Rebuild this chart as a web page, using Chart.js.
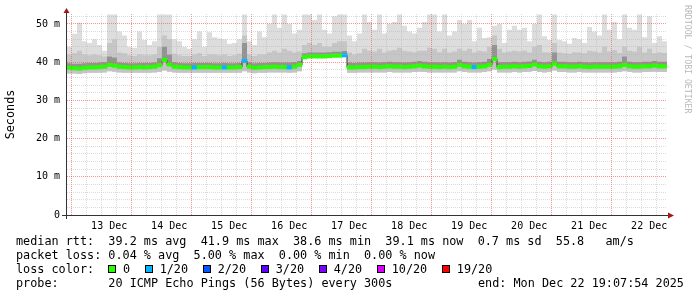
<!DOCTYPE html>
<html><head><meta charset="utf-8">
<script src="https://cdn.jsdelivr.net/npm/chart.js@4.4.1/dist/chart.umd.min.js"></script>
<style>
html,body{margin:0;padding:0;background:#fff;}
#wrap{position:relative;width:697px;height:297px;overflow:hidden;background:#fff;}
#c{position:absolute;left:0;top:0;}
.ln{position:absolute;left:16px;font-family:'DejaVu Sans Mono',monospace;font-size:11.8px;line-height:14px;white-space:pre;color:#000;}
.sw{display:inline-block;width:6px;height:6px;border:1px solid #000;margin-right:6.6px;vertical-align:baseline;}
.lab{margin-right:15px;}
.wm{position:absolute;left:683px;top:5px;writing-mode:vertical-rl;font-family:'DejaVu Sans Mono',monospace;font-size:8.2px;line-height:10px;color:#b8b8b8;white-space:pre;}
</style></head>
<body>
<div id="wrap">
<canvas id="c" width="697" height="297"></canvas>
<div class="ln" style="top:234px">median rtt:  39.2 ms avg  41.9 ms max  38.6 ms min  39.1 ms now  0.7 ms sd  55.8   am/s</div>
<div class="ln" style="top:248px">packet loss: 0.04 % avg  5.00 % max  0.00 % min  0.00 % now</div>
<div class="ln" style="top:262px" id="lossLine"></div>
<div class="ln" style="top:276px">probe:       20 ICMP Echo Pings (56 Bytes) every 300s</div>
<div class="ln" style="top:276px;left:478px">end: Mon Dec 22 19:07:54 2025</div>
<div class="wm">RRDTOOL / TOBI OETIKER</div>
</div>
<script>
// ---- time axis: hours since 12 Dec 00:00, 2-hour bins ----
const startHour = 19 + 7/60 + 54/3600;   // 12 Dec 19:07:54
const binHours = 2;
const dayLabels = ['13 Dec','14 Dec','15 Dec','16 Dec','17 Dec','18 Dec','19 Dec','20 Dec','21 Dec','22 Dec'];
const yMajorTicks = [0,10,20,30,40,50];
const yMajorLabels = ['0','10 m','20 m','30 m','40 m','50 m'];
const yMinorStep = 2;
const yMax = 52.6;

// ---- smoke: highest ping per bin (ms) ----
const maxRtt = [
44.0,47.4,50.3,45.5,45.0,46.0,44.5,43.0,52.5,52.5,
48.0,47.0,44.0,43.8,48.0,45.8,44.5,45.5,52.5,52.5,
52.5,46.0,45.5,44.0,43.5,46.0,48.0,44.0,47.8,46.5,
46.2,46.0,44.8,45.0,46.0,52.5,45.5,44.5,48.0,46.5,
50.0,52.5,49.0,52.5,50.0,47.5,48.5,52.5,52.5,51.0,
52.5,48.5,47.5,52.0,52.5,52.5,47.0,45.5,47.5,52.5,
50.5,48.5,52.5,47.5,50.0,50.5,52.5,49.5,48.0,47.5,
49.0,50.5,52.5,52.5,48.0,52.5,47.0,48.0,51.0,50.0,
51.0,45.5,49.0,46.3,46.5,49.5,50.0,45.0,48.5,49.5,
48.5,49.0,45.5,50.0,52.5,46.8,45.8,52.5,45.8,45.5,
44.8,46.3,46.0,45.0,49.2,48.0,47.0,52.5,48.5,50.5,
46.0,52.5,49.0,48.5,52.5,46.5,52.0,45.0,46.8,45.5];

// ---- smoke: upper quantile band top (ms) ----
const upperRtt = [
42.0,42.3,43.0,42.0,41.8,42.0,41.8,41.5,45.0,46.0,
42.5,42.3,41.8,41.6,42.0,41.8,41.8,42.0,44.0,47.0,
46.0,42.2,41.8,41.6,41.6,42.0,42.3,41.6,42.0,42.0,
41.8,42.0,41.6,41.8,42.2,47.0,42.0,41.6,42.0,42.0,
42.5,43.0,42.5,43.5,43.0,42.5,42.8,44.5,45.0,44.5,
45.0,44.0,44.0,45.0,45.5,45.5,42.5,42.0,42.3,43.5,
43.0,42.8,43.5,42.5,43.0,43.2,43.8,43.0,42.8,42.6,
43.0,43.0,43.8,43.5,42.6,43.5,42.5,42.8,43.5,43.0,
43.5,42.5,43.0,42.8,44.0,47.0,43.5,42.5,42.8,43.0,
42.8,43.0,42.5,44.0,44.5,42.6,42.5,45.0,42.5,42.3,
42.2,42.6,42.5,42.3,43.0,42.8,42.5,44.0,42.8,43.2,
42.4,44.0,43.0,42.8,44.0,42.5,43.5,42.3,42.6,42.4];

// ---- smoke: dense core top just above the median (ms) ----
const coreRtt = [
39.7,39.6,39.6,39.7,39.8,39.8,39.9,40.0,41.5,41.2,
39.9,39.8,39.7,39.7,39.8,39.8,39.8,39.9,41.0,44.0,
42.0,40.0,39.8,39.7,39.7,39.8,39.8,39.8,39.8,39.7,
39.7,39.8,39.7,39.7,39.8,45.0,40.0,39.7,39.8,39.8,
39.9,40.0,39.9,39.9,39.9,40.0,40.3,42.3,42.5,42.5,
42.5,42.5,42.6,42.7,42.7,42.9,39.9,39.8,39.9,39.9,
40.0,40.0,39.9,40.0,40.1,40.0,40.0,39.9,40.0,40.1,
40.3,40.1,40.0,40.0,39.9,40.0,39.9,40.0,40.6,40.1,
40.0,39.9,40.0,40.1,40.8,44.5,40.0,40.0,40.0,40.1,
40.0,40.1,40.2,40.6,40.1,40.0,40.1,42.5,40.1,40.1,
40.0,40.0,40.1,40.0,39.9,40.0,40.0,40.0,40.0,40.0,
40.1,41.5,40.1,40.0,40.0,40.1,40.1,40.3,40.1,40.1];

// ---- median rtt per bin (ms) ----
const medianRtt = [
38.5,38.4,38.3,38.5,38.6,38.6,38.7,38.8,39.3,39.1,
38.8,38.7,38.6,38.6,38.7,38.6,38.7,38.8,39.2,40.6,
39.4,38.8,38.7,38.6,38.6,38.6,38.7,38.7,38.7,38.6,
38.6,38.6,38.6,38.6,38.7,40.3,38.8,38.5,38.6,38.7,
38.7,38.8,38.7,38.7,38.6,38.8,39.3,41.3,41.5,41.5,
41.5,41.5,41.6,41.7,41.7,41.8,38.6,38.6,38.7,38.7,
38.8,38.8,38.7,38.8,38.9,38.8,38.8,38.7,38.8,38.9,
39.1,38.9,38.8,38.8,38.7,38.8,38.7,38.8,39.3,38.9,
38.8,38.7,38.8,38.9,39.3,40.8,38.7,38.8,38.8,38.9,
38.8,38.9,39.0,39.4,38.9,38.8,38.9,39.6,38.9,38.9,
38.8,38.8,38.9,38.8,38.7,38.8,38.8,38.8,38.8,38.8,
38.9,39.3,38.9,38.8,38.8,38.9,38.9,39.1,38.9,38.9];

// ---- smoke: lowest ping per bin (ms) ----
const minRtt = [
37.0,37.0,36.9,37.1,37.2,37.2,37.2,37.3,37.6,37.5,
37.3,37.2,37.2,37.2,37.2,37.2,37.2,37.3,37.4,37.8,
37.5,37.3,37.2,37.2,37.2,37.2,37.2,37.2,37.2,37.2,
37.2,37.2,37.2,37.2,37.2,37.6,37.3,37.1,37.2,37.2,
37.3,37.3,37.3,37.3,37.2,37.3,37.6,41.0,41.2,41.2,
41.2,41.2,41.3,41.4,41.4,41.5,37.2,37.2,37.3,37.3,
37.3,37.3,37.3,37.3,37.4,37.3,37.3,37.3,37.3,37.4,
37.5,37.4,37.3,37.3,37.3,37.3,37.3,37.3,37.6,37.4,
37.3,37.3,37.3,37.4,37.6,38.0,37.3,37.3,37.3,37.4,
37.3,37.4,37.5,37.7,37.4,37.3,37.4,37.8,37.4,37.4,
37.3,37.3,37.4,37.3,37.3,37.3,37.3,37.3,37.3,37.3,
37.4,37.6,37.4,37.3,37.3,37.4,37.4,37.5,37.4,37.4];

// ---- lost pings (of 20) per bin ----
const lostPings = [
0,0,0,0,0,0,0,0,0,0,
0,0,0,0,0,0,0,0,0,0,
0,0,0,0,0,1,0,0,0,0,
0,1,0,0,0,1,0,0,0,0,
0,0,0,0,1,0,0,0,0,0,
0,0,0,0,0,1,0,0,0,0,
0,0,0,0,0,0,0,0,0,0,
0,0,0,0,0,0,0,0,0,0,
0,1,0,0,0,0,0,0,0,0,
0,0,0,0,0,0,0,0,0,0,
0,0,0,0,0,0,0,0,0,0,
0,0,0,0,0,0,0,0,0,0];

// ---- loss colour legend ----
const lossThresholds = [0,1,2,3,4,10,19];
const lossLabels = ['0','1/20','2/20','3/20','4/20','10/20','19/20'];
const lossColors = ['#26ff00','#00b8ff','#0059ff','#5e00ff','#7e00ff','#dd00ff','#ff0000'];

function lossColor(n){
  let c = lossColors[0];
  for (let i=0;i<lossThresholds.length;i++) if (n >= lossThresholds[i]) c = lossColors[i];
  return c;
}

// legend line (real text)
const ll = document.getElementById('lossLine');
ll.appendChild(document.createTextNode('loss color:  '));
lossLabels.forEach((lab,i)=>{
  const s = document.createElement('span'); s.className='sw'; s.style.background = lossColors[i]; ll.appendChild(s);
  const t = document.createElement('span'); t.className='lab'; t.textContent = lab; ll.appendChild(t);
});

// ---- build chart tables ----
const xs = medianRtt.map((_,i)=>startHour + binHours*i);
const endHour = startHour + binHours*medianRtt.length;
function stepSeries(arr){
  const d = arr.map((v,i)=>({x:xs[i], y:v}));
  d.push({x:endHour, y:arr[arr.length-1]});
  return d;
}
const bandHalf = 0.45;
const medianBand = medianRtt.map((m,i)=>({x:xs[i]+binHours/2, y:[m-bandHalf, m+bandHalf]}));

const axesPlugin = {
  id:'rrdAxes',
  afterDraw(chart){
    const {ctx, chartArea:a} = chart;
    ctx.save();
    ctx.strokeStyle = '#333'; ctx.lineWidth = 1;
    ctx.beginPath();
    ctx.moveTo(a.left-5, a.bottom+0.5); ctx.lineTo(a.right+2, a.bottom+0.5);
    ctx.moveTo(a.left-0.5, a.bottom+4); ctx.lineTo(a.left-0.5, a.top-2);
    ctx.stroke();
    ctx.fillStyle = '#a01818';
    ctx.beginPath();
    ctx.moveTo(a.left-0.5, a.top-6); ctx.lineTo(a.left-3.5, a.top-1); ctx.lineTo(a.left+2.5, a.top-1); ctx.closePath(); ctx.fill();
    ctx.beginPath();
    ctx.moveTo(a.right+7, a.bottom+0.5); ctx.lineTo(a.right+1, a.bottom-2.5); ctx.lineTo(a.right+1, a.bottom+3.5); ctx.closePath(); ctx.fill();
    ctx.restore();
  }
};

Chart.defaults.font.family = "'DejaVu Sans Mono', monospace";
const NONE = 'rgba(0,0,0,0)';
const MAJOR = 'rgba(235,90,90,0.65)';
const MINOR = 'rgba(175,175,175,0.45)';
new Chart(document.getElementById('c'), {
  type:'line',
  data:{ datasets:[
    {type:'bar', data:medianBand, backgroundColor:lostPings.map(lossColor), borderWidth:0, borderSkipped:false,
     barPercentage:1, categoryPercentage:1, grouped:false, order:0},
    {data:stepSeries(medianRtt), stepped:true, borderColor:'#303030', borderWidth:1, pointRadius:0,
     fill:{target:5}, backgroundColor:'#c4c4c4', order:1},
    {data:stepSeries(coreRtt), stepped:true, borderColor:NONE, borderWidth:1, pointRadius:0,
     fill:{target:1}, backgroundColor:'#939393', order:2},
    {data:stepSeries(upperRtt), stepped:true, borderColor:NONE, borderWidth:1, pointRadius:0,
     fill:{target:1}, backgroundColor:'#c6c6c6', order:3},
    {data:stepSeries(maxRtt), stepped:true, borderColor:NONE, borderWidth:1, pointRadius:0,
     fill:{target:5}, backgroundColor:'#dddddd', order:4},
    {data:stepSeries(minRtt), stepped:true, borderColor:NONE, borderWidth:1, pointRadius:0,
     fill:false, order:5}
  ]},
  options:{
    responsive:false, animation:false, devicePixelRatio:1,
    layout:{padding:{left:0, right:30, top:14, bottom:62}},
    plugins:{legend:{display:false}, tooltip:{enabled:false}},
    scales:{
      x:{type:'linear', min:startHour, max:endHour, offset:false,
        afterFit(s){ s.height = 20; },
        afterBuildTicks(s){
          const t=[]; for(let h=Math.ceil(startHour/6)*6; h<endHour; h+=6) t.push({value:h});
          s.ticks = t;
        },
        grid:{z:1, drawTicks:false, lineWidth:1,
          color:c=> (c.tick && c.tick.value % 24 === 0) ? MAJOR : MINOR},
        border:{display:false, dash:[1,1]},
        ticks:{autoSkip:false, maxRotation:0, minRotation:0, padding:5, color:'#000', font:{size:10},
          callback:(v)=> (v % 24 === 12) ? (dayLabels[(v-36)/24] || '') : ''}
      },
      y:{type:'linear', min:0, max:yMax,
        afterFit(s){ s.width = 67; },
        afterBuildTicks(s){
          const t=[]; for(let v=0; v<=yMax; v+=yMinorStep) t.push({value:v});
          s.ticks = t;
        },
        grid:{z:1, drawTicks:false, lineWidth:1,
          color:c=> (c.tick && yMajorTicks.includes(c.tick.value)) ? MAJOR : MINOR},
        border:{display:false, dash:[1,1]},
        title:{display:true, text:'Seconds', color:'#000', font:{size:11.8}, padding:{top:4,bottom:0}},
        ticks:{autoSkip:false, padding:7, color:'#000', font:{size:10},
          callback:(v)=>{ const k = yMajorTicks.indexOf(v); return k>=0 ? yMajorLabels[k] : ''; }}
      }
    }
  },
  plugins:[axesPlugin]
});
</script>
</body></html>
